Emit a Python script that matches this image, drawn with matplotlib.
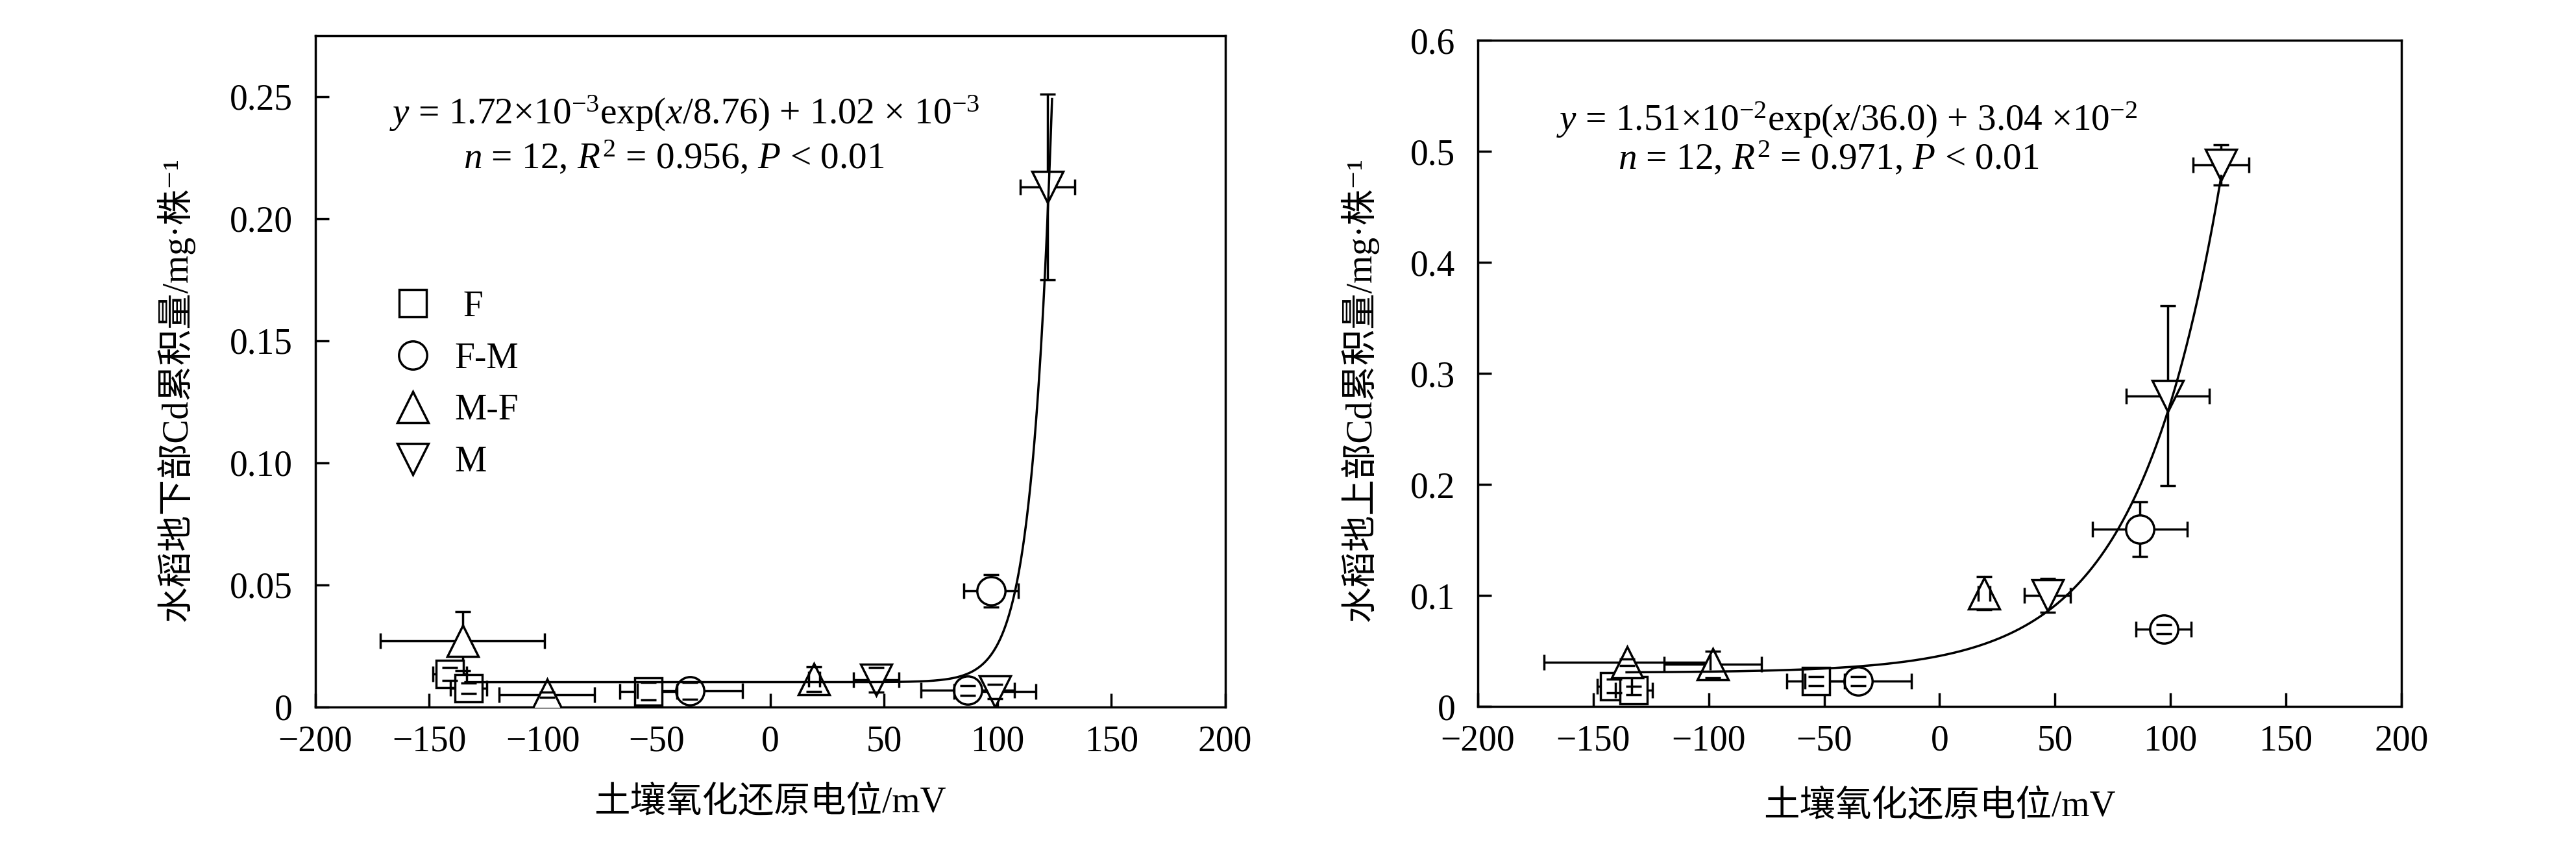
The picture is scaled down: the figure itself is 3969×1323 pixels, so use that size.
import numpy as np
import matplotlib
matplotlib.use("Agg")
import matplotlib.pyplot as plt

plt.rcParams['font.family'] = ['Liberation Serif', 'Noto Sans CJK SC', 'DejaVu Serif']
plt.rcParams['mathtext.fontset'] = 'custom'
plt.rcParams['mathtext.rm'] = 'Liberation Serif'
plt.rcParams['mathtext.it'] = 'Liberation Serif:italic'
plt.rcParams['font.size'] = 16

# 土壤氧化还原电位 (mV), shared by both panels
x_F = [-140.9, -132.5, -53.6]
xerr_F = [7.5, 8, 12.5]
x_FM = [-35.3, 86.8, 97.0]
xerr_FM = [23, 20.5, 12]
x_MF = [-135.3, -98.2, 19.3]
xerr_MF = [36, 21, 2.5]
x_M = [46.7, 98.8, 121.9]
xerr_M = [10, 18, 12]

# 地下部 Cd 累积量 (mg/株)
y_F_below = [0.0136, 0.0077, 0.0065]
yerr_F_below = [0.0027, 0.002, 0.0035]
y_FM_below = [0.0066, 0.0068, 0.0476]
yerr_FM_below = [0.0035, 0.002, 0.0067]
y_MF_below = [0.027, 0.005, 0.0115]
yerr_MF_below = [0.012, 0.001, 0.005]
y_M_below = [0.0112, 0.0064, 0.213]
yerr_M_below = [0.005, 0.003, 0.038]

# 地上部 Cd 累积量 (mg/株)
y_F_above = [0.0183, 0.0144, 0.0228]
yerr_F_above = [0.006, 0.004, 0.004]
y_FM_above = [0.0228, 0.1596, 0.0696]
yerr_FM_above = [0.004, 0.0247, 0.004]
y_MF_above = [0.040, 0.038, 0.102]
yerr_MF_above = [0.003, 0.012, 0.015]
y_M_above = [0.100, 0.2796, 0.4877]
yerr_M_above = [0.015, 0.081, 0.018]

# fitted curves y = a*exp(x/t) + b, and the x span they are drawn over
fit_below = (1.72e-7, 8.76, 1.02e-2)
span_below = (-134, 123.9)
fit_above = (1.51e-2, 36.0, 3.04e-2)
span_above = (-135.6, 122)

eq_below = [r'$y$ = 1.72×10$^{-3}$exp($x$/8.76) + 1.02 × 10$^{-3}$',
            r'$n$ = 12, $R^2$ = 0.956, $P$ < 0.01']
eq_above = [r'$y$ = 1.51×10$^{-2}$exp($x$/36.0) + 3.04 ×10$^{-2}$',
            r'$n$ = 12, $R^2$ = 0.971, $P$ < 0.01']

labels = [' F', 'F-M', 'M-F', 'M']
markers = ['s', 'o', '^', 'v']
sizes = [12, 12.5, 14, 14]
xlabel = '土壤氧化还原电位/mV'


def draw_series(ax, x, y, xerr, yerr, marker, ms, label):
    eb = ax.errorbar(x, y, xerr=xerr, yerr=yerr, fmt='none', ecolor='k',
                     elinewidth=1.0, capsize=3.5, capthick=1.0, zorder=2)
    for cap in eb[1]:
        cap.set_zorder(4)
    ax.plot(x, y, ls='none', marker=marker, ms=ms, mfc='white', mec='k',
            mew=1.0, zorder=3, label=label)


def style_axes(ax, ylim, yticks, yticklabels):
    ax.set_xlim(-200, 200)
    ax.set_ylim(*ylim)
    ax.set_xticks(np.arange(-200, 201, 50))
    ax.set_yticks(yticks)
    ax.set_yticklabels(yticklabels)
    ax.tick_params(direction='in', length=6, width=1.0, top=False, right=False)
    ax.tick_params(axis='x', pad=8)
    ax.tick_params(axis='y', pad=10)
    for s in ax.spines.values():
        s.set_linewidth(1.0)


fig = plt.figure(figsize=(15.876, 5.292), dpi=250)
ax1 = fig.add_axes([0.1224, 0.1769, 0.3532, 0.7816])
ax2 = fig.add_axes([0.5737, 0.1776, 0.3585, 0.7755])

xs = [x_F, x_FM, x_MF, x_M]
xerrs = [xerr_F, xerr_FM, xerr_MF, xerr_M]
below = [(y_F_below, yerr_F_below), (y_FM_below, yerr_FM_below),
         (y_MF_below, yerr_MF_below), (y_M_below, yerr_M_below)]
above = [(y_F_above, yerr_F_above), (y_FM_above, yerr_FM_above),
         (y_MF_above, yerr_MF_above), (y_M_above, yerr_M_above)]

for i in range(4):
    draw_series(ax1, xs[i], below[i][0], xerrs[i], below[i][1], markers[i], sizes[i], labels[i])
    draw_series(ax2, xs[i], above[i][0], xerrs[i], above[i][1], markers[i], sizes[i], labels[i])

for ax, fit, span in [(ax1, fit_below, span_below), (ax2, fit_above, span_above)]:
    a, t, b = fit
    xx = np.linspace(span[0], span[1], 800)
    ax.plot(xx, a * np.exp(xx / t) + b, color='k', lw=1.0, zorder=5)

style_axes(ax1, (0, 0.275), [0, 0.05, 0.10, 0.15, 0.20, 0.25],
           ['0', '0.05', '0.10', '0.15', '0.20', '0.25'])
style_axes(ax2, (0, 0.6), [0, 0.1, 0.2, 0.3, 0.4, 0.5, 0.6],
           ['0', '0.1', '0.2', '0.3', '0.4', '0.5', '0.6'])

ax1.text(0.406, 0.869, eq_below[0], transform=ax1.transAxes, ha='center', va='baseline', fontsize=16.5)
ax1.text(0.394, 0.801, eq_below[1], transform=ax1.transAxes, ha='center', va='baseline', fontsize=16.5)
ax2.text(0.40, 0.865, eq_above[0], transform=ax2.transAxes, ha='center', va='baseline', fontsize=16.5)
ax2.text(0.38, 0.806, eq_above[1], transform=ax2.transAxes, ha='center', va='baseline', fontsize=16.5)

ax1.set_xlabel(xlabel, labelpad=12)
ax2.set_xlabel(xlabel, labelpad=14)
ax1.set_ylabel('水稻地下部Cd累积量/mg·株⁻¹')
ax2.set_ylabel('水稻地上部Cd累积量/mg·株⁻¹')
ax1.yaxis.set_label_coords(-0.133, 0.473)
ax2.yaxis.set_label_coords(-0.108, 0.476)

ax1.legend(loc='upper left', bbox_to_anchor=(0.0875, 0.621), frameon=False,
           borderpad=0, borderaxespad=0, handlelength=1.0, handletextpad=0.65,
           labelspacing=0.5, fontsize=16)

fig.savefig('out.png', dpi=250)
